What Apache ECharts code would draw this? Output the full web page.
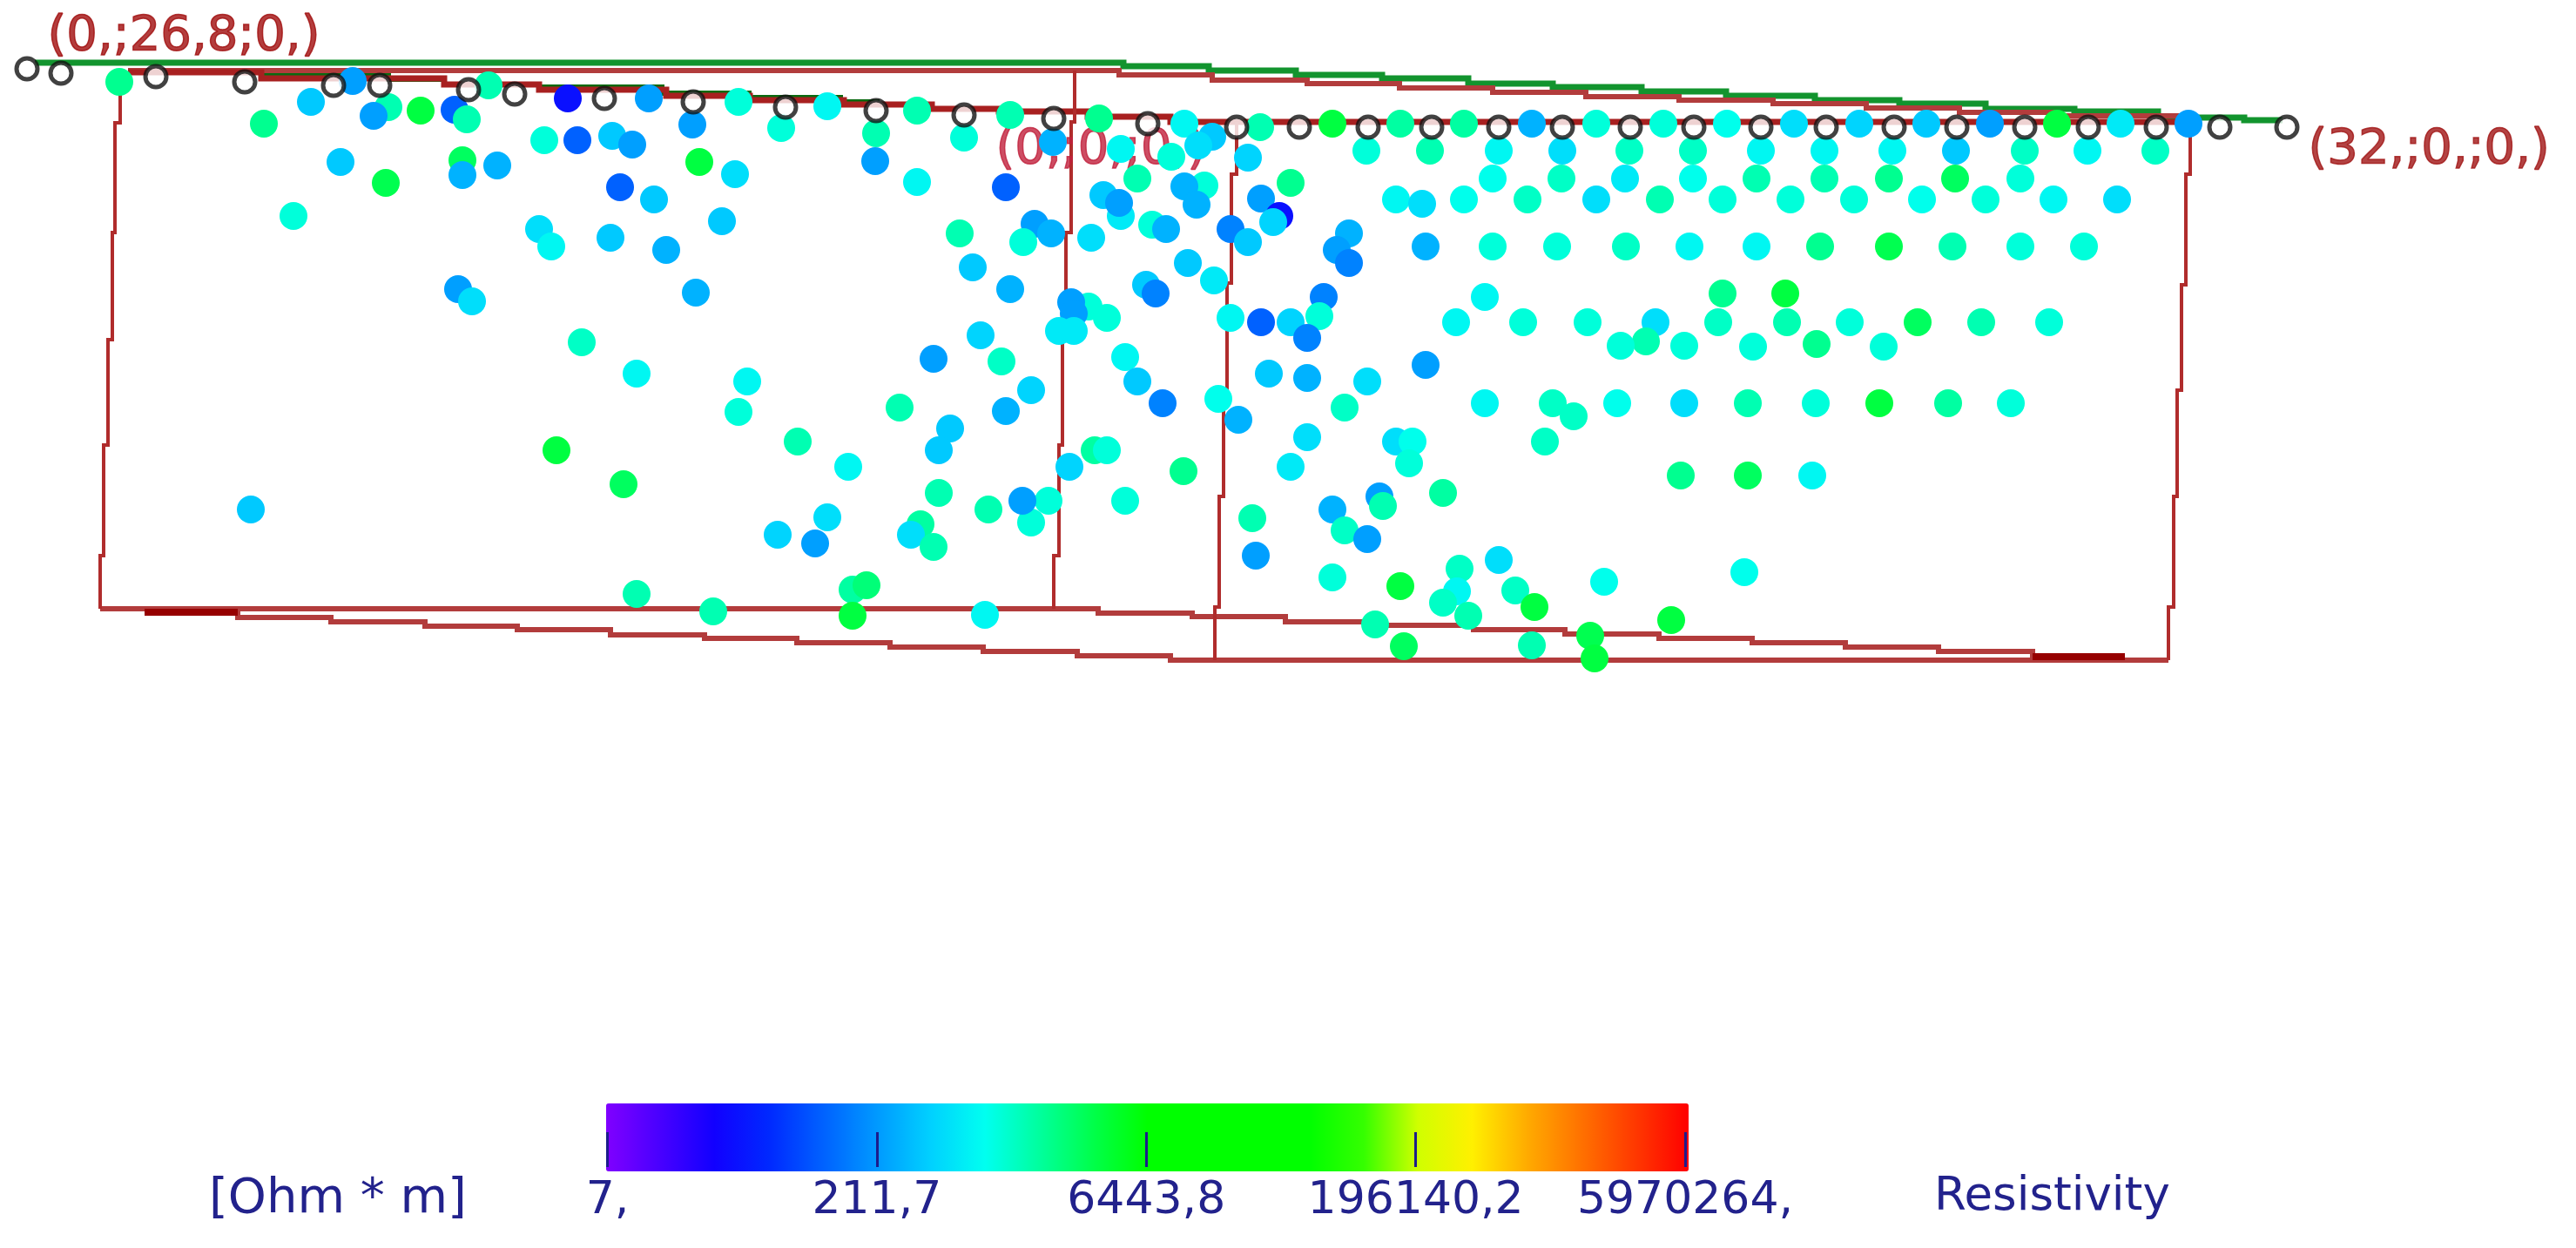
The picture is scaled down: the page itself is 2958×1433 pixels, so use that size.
<!DOCTYPE html>
<html>
<head>
<meta charset="utf-8">
<title>Resistivity section</title>
<style>
    body{margin:0;background:#ffffff;}
    #main{width:2958px;height:1433px;}
</style>
</head>
<body>
<div id="main"></div>
<script src="https://cdn.jsdelivr.net/npm/echarts@6/dist/echarts.min.js"></script>
<script>
// measured points, in picture units, resistivity in Ohm*m
var pointX = [
    137,303,357,405,446,429,483,522,536,561,
    652,745,848,950,625,663,703,726,795,897,
    391,443,531,531,571,803,844,712,751,1005,
    1006,337,619,633,701,765,829,526,542,799,
    668,731,858,848,916,974,639,716,288,950,
    893,936,731,819,979,995,979,1053,1160,1262,
    1360,1447,1530,1608,1681,1759,1833,1910,1983,1107,
    1209,1287,1345,1392,1376,1433,1569,1642,1721,1794,
    1871,1944,1053,1155,1306,1482,1383,1360,1374,1267,
    1287,1285,1448,1469,1462,1323,1339,1188,1207,1175,
    1253,1102,1413,1433,1549,1535,1549,1117,1160,1364,
    1394,1316,1327,1520,1705,1250,1271,1230,1233,1216,
    1233,1413,1448,1515,1482,1501,1126,1072,1150,1292,
    1714,1793,1866,1944,1603,1633,1681,1754,1833,1906,
    1978,1637,1714,1788,1867,1940,1978,1672,1749,1823,
    1901,1973,1890,1861,1934,1637,2060,2135,2212,2285,
    2362,2435,2513,2022,2095,2173,2246,2325,2397,2475,
    2017,2095,2169,2245,2320,2056,2129,2207,2280,2358,
    2431,2017,2090,2169,2242,2320,2393,2050,2052,2124,
    2202,2275,2353,2013,2086,2163,2007,2085,2158,2237,
    2309,2007,2081,2003,1306,1184,1335,1033,1155,1091,
    1078,1257,1271,1228,1359,1399,1422,1457,1501,1570,
    1544,1501,1482,1603,1622,1618,1705,1783,1807,1857,
    1934,1774,1930,1078,1135,1184,1204,1174,1292,1057,
    1046,1072,1131,1438,1442,1530,1584,1588,1657,1544,
    1570,1530,1608,1676,1721,1740,1673,1657,1686,1762,
    1842,1579,1612,1759,1826,1831,1919
];
var pointY = [
    94,142,117,93,123,133,127,126,137,98,
    113,113,117,122,161,161,156,166,143,147,
    186,210,184,201,190,186,200,215,229,185,
    153,248,263,283,273,287,254,332,346,336,
    393,429,438,473,507,536,517,556,585,594,
    614,624,682,702,677,672,707,127,132,136,
    142,146,142,142,142,142,142,142,142,158,
    163,171,180,157,167,181,173,173,173,173,
    173,173,209,215,205,210,213,214,235,224,
    248,233,228,248,255,258,263,257,268,278,
    273,268,263,278,268,287,302,307,332,302,
    322,327,337,341,341,352,365,347,360,380,
    380,365,370,363,370,388,385,412,415,410,
    205,205,205,205,229,234,229,229,229,229,
    229,283,283,283,283,283,337,370,370,370,
    370,370,392,397,397,419,142,142,142,142,
    142,142,142,173,173,173,173,173,173,173,
    205,205,205,205,205,229,229,229,229,229,
    229,283,283,283,283,283,283,337,370,370,
    370,370,370,398,395,398,463,463,463,463,
    463,546,546,657,438,448,463,468,472,492,
    517,517,517,536,541,458,482,429,434,438,
    468,502,536,507,507,532,463,463,478,463,
    463,507,546,566,585,600,575,575,575,602,
    614,628,706,595,638,585,570,581,566,609,
    619,663,673,653,643,678,679,692,707,697,
    668,717,742,741,730,756,712
];
var pointRes = [
    1850,1850,380,229,1400,229,3560,107,1400,1400,
    36,229,1000,745,1000,107,380,229,229,1000,
    380,3100,2750,290,290,3560,510,107,380,229,
    1400,1000,510,745,380,290,380,229,510,290,
    1180,745,745,1000,1400,745,3560,2750,380,510,
    440,229,1400,1400,1600,2250,3560,1400,1400,1850,
    745,1400,3560,1600,1600,290,1000,1000,860,1000,
    290,745,1000,380,510,440,1000,1400,745,510,
    1180,1180,745,107,1400,1850,1000,290,290,380,
    610,229,229,36,440,1000,290,229,290,1000,
    510,1400,160,380,290,229,160,380,290,380,
    610,380,160,160,745,1000,1000,229,229,610,
    610,745,107,1000,440,160,440,229,1180,745,
    860,1180,610,860,745,510,860,1180,510,1400,
    1000,290,1000,1000,1180,745,1850,745,1000,1000,
    510,1180,1400,1000,1000,229,510,440,380,229,
    3560,610,229,745,745,745,380,1180,745,1180,
    1400,1400,1850,2750,1000,1000,1000,860,1000,745,
    510,745,1850,3100,1400,1000,1000,3560,1400,1000,
    2750,1400,1000,1000,1850,1000,1400,1000,3560,1600,
    1000,2750,745,860,380,440,160,1400,290,380,
    380,1600,1000,440,1850,860,290,380,290,510,
    1180,510,610,510,860,1000,745,1180,1180,860,
    510,1180,1850,1400,1400,1000,1000,229,1000,1600,
    510,1400,745,1400,229,290,229,1400,1600,1180,
    229,1000,3560,1180,510,1180,745,1180,1400,3560,
    860,1400,2750,1400,3100,3560,3560
];

// electrodes along the surface
var electrodeX = [31,70,179,281,383,436,538,591,694,796,902,1006,1107,1210,1318,1420,1492,1571,1644,1721,1794,1872,1945,2022,2097,2175,2247,2325,2398,2476,2549,2626];
var electrodeY = [79,84,88,94,98,98,103,108,113,117,123,127,132,136,142,146,146,146,146,146,146,146,146,146,146,146,146,146,146,146,146,146];

// surface and section outlines, as stairs
var greenTopX = [40,1290,1388,1488,1587,1686,1783,1885,1982,2084,2181,2280,2382,2478,2577,2621];
var greenTopY = [72,76,81,86,90,96,100,105,110,115,119,125,128,135,138,138];
var greenLowX = [300,446,510,619,760,860,965,1010];
var greenLowY = [86,91,97,100,107,112,117,117];
var redTopX = [147,1285,1392,1501,1607,1714,1821,1928,2036,2143,2250,2357,2515];
var redTopY = [81,86,92,96,101,106,111,115,119,124,129,133,133];
var redSurfX = [147,300,510,619,765,861,969,1070,1147,1249,1344,2515];
var redSurfY = [83,90,97,103,110,115,120,125,128,134,140,140];
var bottomUpperX = [115,1261,1369,1476,1587,1692,1797,1905,2012,2119,2226,2334,2440];
var bottomUpperY = [699,704,708,714,718,723,728,733,738,743,748,754,754];
var bottomLowerX = [166,273,380,488,594,701,809,915,1022,1129,1237,1344,2490];
var bottomLowerY = [703,709,714,719,723,729,733,738,743,748,753,758,758];
var bottomDarkLeftX = [166,273];
var bottomDarkLeftY = [703,703];
var bottomDarkRightX = [2334,2440];
var bottomDarkRightY = [754,754];

var sideLeftX = [138,132,129,124,119,115,115];
var sideLeftY = [108,141,267,390,511,638,699];
var sideMidAX = [1234,1230,1224,1220,1216,1210,1210];
var sideMidAY = [81,140,267,390,511,638,699];
var sideMidBX = [1420,1414,1409,1405,1400,1395,1395];
var sideMidBY = [140,200,325,447,570,697,758];
var sideRightX = [2515,2510,2505,2500,2496,2490,2490];
var sideRightY = [140,200,327,448,570,697,758];

// colour scale
var tickLabels = ['7,','211,7','6443,8','196140,2','5970264,'];
var logMin = 0.845, logMax = 6.776;
var scaleColors = ['#8000ff','#4800ff','#1100ff','#0028ff','#0061ff','#0099ff','#00d1ff','#00fff0','#00ff9e','#00ff4a',
    '#00ff00','#00ff00','#00ff00','#00ff00','#35ff00','#d0ff00','#fff000','#ffac00','#ff7200','#ff3900','#ff0000'];

var cornerNames = ['(0,;26,8;0,)','(0,;0,;0,)','(32,;0,;0,)'];
var cornerX = [54,1143,2650];
var cornerY = [42,172,172];
var cornerColors = ['#a00c0c','#c0203c','#a01414'];

function zip(xs, ys){
    var out = [];
    for(var i=0;i<xs.length;i++){
        out.push([xs[i],ys[i]]);
    }
    return out;
}

function outline(xs, ys, color, width, step){
    return {
        type:'line', xAxisIndex:0, yAxisIndex:0, data:zip(xs,ys), step:step,
        showSymbol:false, symbol:'none', silent:true, z:2,
        lineStyle:{color:color,width:width,cap:'butt',join:'miter'}
    };
}

var dots = [];
for(var i=0;i<pointX.length;i++){
    dots.push([pointX[i],pointY[i],Math.log10(pointRes[i])]);
}

var cornerData = [];
for(var j=0;j<cornerNames.length;j++){
    cornerData.push({
        value:[cornerX[j],cornerY[j]], name:cornerNames[j],
        label:{color:cornerColors[j],textBorderColor:cornerColors[j]}
    });
}

var myChart = echarts.init(document.getElementById('main'));
myChart.setOption({
    animation:false,
    backgroundColor:'#ffffff',
    title:[
        {text:'[Ohm * m]',left:240,top:1349,padding:0,textStyle:{color:'#22228c',fontSize:56,fontWeight:'normal',fontFamily:'DejaVu Sans'}},
        {text:'Resistivity',left:2221,top:1349,padding:0,textStyle:{color:'#22228c',fontSize:53,fontWeight:'normal',fontFamily:'DejaVu Sans'}}
    ],
    grid:[
        {left:0,top:0,width:2958,height:1433},
        {left:697.5,top:1267,width:1237.5,height:73}
    ],
    xAxis:[
        {type:'value',gridIndex:0,min:0,max:2958,show:false},
        {type:'value',gridIndex:1,min:0,max:4,interval:1,z:10,
            axisLine:{show:false},splitLine:{show:false},
            axisTick:{show:true,inside:true,length:40,lineStyle:{color:'#1c1c8c',width:3}},
            axisLabel:{margin:13,color:'#22228c',fontSize:52,fontFamily:'DejaVu Sans',
                formatter:function(v){return tickLabels[v];}}
        }
    ],
    yAxis:[
        {type:'value',gridIndex:0,min:0,max:1433,inverse:true,show:false},
        {type:'value',gridIndex:1,min:0,max:1,show:false}
    ],
    visualMap:{
        type:'continuous',seriesIndex:0,dimension:2,min:logMin,max:logMax,
        orient:'horizontal',left:696,top:1267,padding:0,z:1,
        itemWidth:78,itemHeight:1243,calculable:false,showLabel:false,text:null,
        hoverLink:false,inRange:{color:scaleColors}
    },
    series:[
        {type:'scatter',name:'Resistivity',xAxisIndex:0,yAxisIndex:0,data:dots,symbolSize:32,z:4,silent:true,
            itemStyle:{opacity:1}},
        outline(greenTopX,greenTopY,'#12942e',7,'end'),
        outline(greenLowX,greenLowY,'#0a6a10',6,'end'),
        outline(redTopX,redTopY,'#b23c3c',6,'end'),
        outline(redSurfX,redSurfY,'#a82020',7,'end'),
        outline(bottomUpperX,bottomUpperY,'#b23c3c',6,'end'),
        outline(bottomLowerX,bottomLowerY,'#b23c3c',6,'end'),
        outline(bottomDarkLeftX,bottomDarkLeftY,'#960000',8,'end'),
        outline(bottomDarkRightX,bottomDarkRightY,'#960000',8,'end'),
        outline(sideLeftX,sideLeftY,'#b02c2c',4,'start'),
        outline(sideMidAX,sideMidAY,'#b02c2c',4,'start'),
        outline(sideMidBX,sideMidBY,'#b02c2c',4,'start'),
        outline(sideRightX,sideRightY,'#b02c2c',4,'start'),
        {type:'scatter',name:'labels',xAxisIndex:0,yAxisIndex:0,data:cornerData,symbolSize:1,z:3,silent:true,
            itemStyle:{color:'transparent'},
            label:{show:true,position:'right',distance:0,fontSize:56,fontFamily:'DejaVu Sans',textBorderWidth:1.5,
                formatter:function(p){return p.name;}}},
        {type:'scatter',name:'electrodes',xAxisIndex:0,yAxisIndex:0,data:zip(electrodeX,electrodeY),symbolSize:24,z:5,silent:true,
            itemStyle:{color:'#ffffff',borderColor:'#111111',borderWidth:5}}
    ]
});
</script>
</body>
</html>
